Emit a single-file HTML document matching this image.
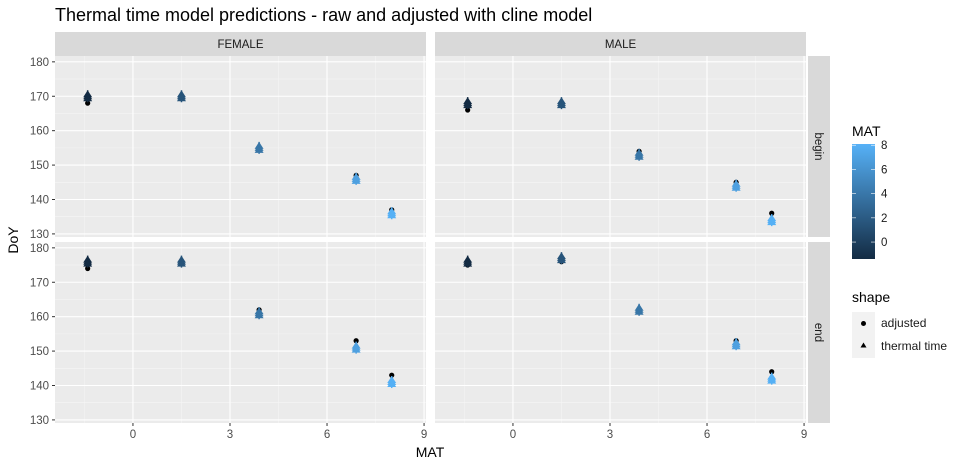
<!DOCTYPE html>
<html><head><meta charset="utf-8"><style>
body{margin:0;background:#fff;font-family:"Liberation Sans",sans-serif}
</style></head><body>
<svg id="c" width="964" height="468" xmlns="http://www.w3.org/2000/svg" font-family="Liberation Sans, sans-serif">
<defs><linearGradient id="g" x1="0" y1="1" x2="0" y2="0"><stop offset="0" stop-color="#132B43"/><stop offset="1" stop-color="#56B1F7"/></linearGradient></defs>
<text x="55" y="21" font-size="18" fill="#000">Thermal time model predictions - raw and adjusted with cline model</text>
<text x="430" y="457" font-size="14" text-anchor="middle">MAT</text>
<text transform="translate(18,240) rotate(-90)" font-size="14" text-anchor="middle">DoY</text>
<g id="panels"></g>
<text x="852" y="136" font-size="14">MAT</text>
<rect x="852" y="144" width="23" height="115" fill="url(#g)"/>
<g id="cb"></g>
<text x="852" y="302" font-size="14">shape</text>
<rect x="852" y="312" width="23" height="23" fill="#f2f2f2"/>
<circle cx="863.5" cy="323.5" r="2.5" fill="#000"/>
<text x="881" y="327" font-size="12" fill="#1a1a1a">adjusted</text>
<rect x="852" y="335" width="23" height="23" fill="#f2f2f2"/>
<path d="M863.5,342.5 l3,5 h-6z" fill="#000"/>
<text x="881" y="350" font-size="12" fill="#1a1a1a">thermal time</text>
</svg>
<script>
const matValues=[-1.4,1.5,3.9,6.9,8.0];
const facets=["FEMALE","MALE"];
const rows=["begin","end"];
const thermalFemaleBegin=[170,170,155,146,136];
const adjustedFemaleBegin=[168,170,155,147,137];
const thermalMaleBegin=[168,168,153,144,134];
const adjustedMaleBegin=[166,168,154,145,136];
const thermalFemaleEnd=[176,176,161,151,141];
const adjustedFemaleEnd=[174,176,162,153,143];
const thermalMaleEnd=[176,177,162,152,142];
const adjustedMaleEnd=[175,176,162,153,144];
const xTicks=[0,3,6,9];
const yTicks=[130,140,150,160,170,180];
const cbTicks=[0,2,4,6,8];
const series={FEMALE:{begin:[thermalFemaleBegin,adjustedFemaleBegin],end:[thermalFemaleEnd,adjustedFemaleEnd]},MALE:{begin:[thermalMaleBegin,adjustedMaleBegin],end:[thermalMaleEnd,adjustedMaleEnd]}};
const NS="http://www.w3.org/2000/svg";
function mk(t,a,p){const e=document.createElementNS(NS,t);for(const k in a)e.setAttribute(k,a[k]);p.appendChild(e);return e;}
const P=document.getElementById('panels');
const px=[55,435],pw=371,py=[56,242],ph=181;
const xmin=-2.41,xmax=9.06,ymin=129.1,ymax=181.7;
const cmin=-1.4,cmax=8.1;
function col(v){const t=Math.max(0,Math.min(1,(v-cmin)/(cmax-cmin)));const a=[0x13,0x2B,0x43],b=[0x56,0xB1,0xF7];return 'rgb('+a.map((c,i)=>Math.round(c+(b[i]-c)*t)).join(',')+')';}
facets.forEach((f,fi)=>{
 const X=v=>px[fi]+(v-xmin)/(xmax-xmin)*pw;
 const s=mk('rect',{x:px[fi],y:32,width:pw,height:24,fill:'#d9d9d9'},P);
 
 
 const st=mk('text',{x:px[fi]+pw/2,y:48,'font-size':11.5,'text-anchor':'middle',fill:'#1a1a1a'},P);st.textContent=f;
 
 
 rows.forEach((r,ri)=>{
  const Y=v=>py[ri]+ph-(v-ymin)/(ymax-ymin)*ph;
  const bg=mk('rect',{x:px[fi],y:py[ri],width:pw,height:ph,fill:'#ebebeb'},P);
  
  
  for(let v=-1.5;v<=9;v+=3){const x=X(v);mk('line',{x1:x,x2:x,y1:py[ri],y2:py[ri]+ph,stroke:'#f5f5f5','stroke-width':0.6},P);}
  for(let v=135;v<=175;v+=10){const y=Y(v);mk('line',{x1:px[fi],x2:px[fi]+pw,y1:y,y2:y,stroke:'#f5f5f5','stroke-width':0.6},P);}
  xTicks.forEach(v=>{const x=X(v);mk('line',{x1:x,x2:x,y1:py[ri],y2:py[ri]+ph,stroke:'#fff','stroke-width':1.1},P);});
  yTicks.forEach(v=>{const y=Y(v);mk('line',{x1:px[fi],x2:px[fi]+pw,y1:y,y2:y,stroke:'#fff','stroke-width':1.1},P);
   if(fi==0){mk('line',{x1:52,x2:55,y1:y,y2:y,stroke:'#333'},P);const t=mk('text',{x:49,y:y+4,'font-size':11.5,'text-anchor':'end',fill:'#4d4d4d'},P);t.textContent=v;
    
    }});
  if(ri==1)xTicks.forEach(v=>{const x=X(v);mk('line',{x1:x,x2:x,y1:423,y2:426,stroke:'#333'},P);const t=mk('text',{x:x,y:438,'font-size':11.5,'text-anchor':'middle',fill:'#4d4d4d'},P);t.textContent=v;
   
   });
  if(fi==1){const rs=mk('rect',{x:808,y:py[ri],width:22,height:ph,fill:'#d9d9d9'},P);
   
   
   const rt=mk('text',{transform:'translate(815,'+(py[ri]+ph/2)+') rotate(90)','font-size':11.5,'text-anchor':'middle',fill:'#1a1a1a'},P);rt.textContent=r;}
  const [th,ad]=series[f][r];
  matValues.forEach((m,i)=>{
   const x=X(m),c=col(m);
   const cy=Y(ad[i]);
   const p=mk('circle',{cx:x,cy:cy,r:2.6,fill:'#000'},P);
   
   
   const ty=Y(th[i]);
   mk('line',{x1:x,x2:x,y1:ty-6,y2:ty+6,stroke:c,'stroke-width':1.5},P);
   [-2,0,2].forEach(o=>{const tr=mk('path',{d:'M'+x+','+(ty+o-4)+' l4.5,7 h-9z',fill:c},P);
    
    });
  });
 });
});
const cb=document.getElementById('cb');
cbTicks.forEach(v=>{const y=259-(v-cmin)/(cmax-cmin)*115;
 mk('line',{x1:852,x2:856,y1:y,y2:y,stroke:'#fff','stroke-width':0.6},cb);
 mk('line',{x1:871,x2:875,y1:y,y2:y,stroke:'#fff','stroke-width':0.6},cb);
 const t=mk('text',{x:881,y:y+4,'font-size':11.5,fill:'#1a1a1a'},cb);t.textContent=v;
 
 });
</script>
</body></html>
